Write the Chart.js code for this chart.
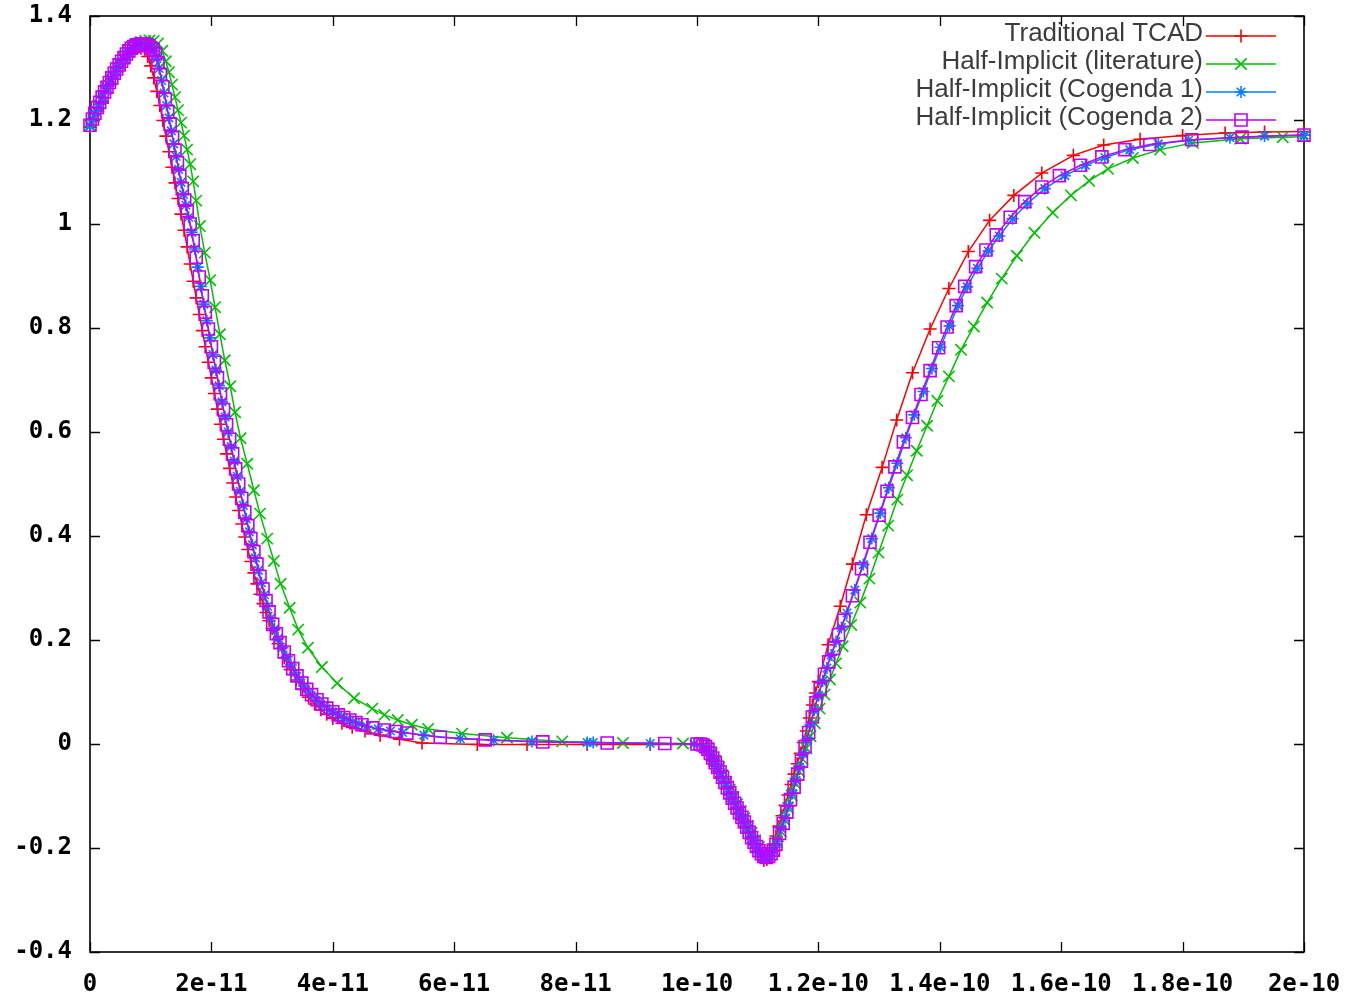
<!DOCTYPE html>
<html><head><meta charset="utf-8">
<script src="https://cdn.jsdelivr.net/npm/chart.js@4/dist/chart.umd.min.js"></script>
<style>html,body{margin:0;padding:0;background:#fff;}canvas{display:block;}</style>
</head><body>
<canvas id="c" width="1350" height="994"></canvas>
<script>
// ---- data (time in ps, value in V) ----
const seriesNames = ['Traditional TCAD','Half-Implicit (literature)','Half-Implicit (Cogenda 1)','Half-Implicit (Cogenda 2)'];
const seriesColors = ['#ff0000','#00c000','#0080ff','#c000ff'];

const tcadData = [[0,1.186],[0.6,1.200],[1.2,1.218],[1.8,1.235],[2.4,1.251],[3.0,1.266],[3.6,1.280],[4.2,1.293],[4.8,1.305],[5.4,1.316],[6.0,1.325],[6.6,1.332],[7.2,1.337],[7.8,1.339],[8.4,1.338],[9.0,1.333],[9.5,1.322],[10.0,1.304],[10.5,1.281],[11.0,1.255],[11.5,1.228],[12.0,1.199],[12.5,1.169],[13.0,1.139],[13.5,1.109],[14.0,1.079],[14.5,1.049],[15.0,1.019],[15.5,0.988],[16.0,0.956],[16.5,0.923],[17.0,0.890],[17.5,0.858],[18.0,0.826],[18.5,0.795],[19.0,0.764],[19.5,0.734],[20.0,0.704],[20.5,0.674],[21.0,0.644],[21.5,0.615],[22.0,0.586],[22.5,0.558],[23.0,0.530],[23.5,0.502],[24.0,0.475],[24.5,0.449],[25.0,0.423],[25.5,0.398],[26.0,0.374],[26.5,0.351],[27.0,0.329],[27.5,0.308],[28.0,0.288],[28.5,0.270],[29.0,0.253],[29.5,0.237],[30.0,0.222],[31.0,0.193],[32.0,0.166],[33.0,0.143],[34.0,0.123],[35.0,0.105],[36.0,0.090],[37.0,0.077],[38.0,0.066],[39.0,0.057],[40.0,0.049],[41.5,0.040],[43.2,0.032],[45.3,0.025],[47.8,0.017],[51.0,0.009],[54.7,0.002],[63.8,-0.001],[72.0,-0.001],[81.9,-0.001],[92.3,-0.001],[100.5,-0.001],[101.0,-0.003],[101.5,-0.012],[102.0,-0.022],[102.5,-0.032],[103.0,-0.042],[103.5,-0.052],[104.0,-0.063],[104.5,-0.074],[105.0,-0.086],[105.5,-0.098],[106.0,-0.110],[106.5,-0.122],[107.0,-0.134],[107.5,-0.146],[108.0,-0.158],[108.5,-0.170],[109.0,-0.182],[109.5,-0.194],[110.0,-0.206],[110.5,-0.216],[111.0,-0.224],[111.5,-0.222],[112.0,-0.210],[112.5,-0.195],[113.0,-0.177],[113.5,-0.158],[114.0,-0.138],[114.5,-0.118],[115.0,-0.098],[115.5,-0.078],[116.0,-0.058],[116.5,-0.038],[117.0,-0.018],[117.5,0.003],[118.0,0.025],[118.5,0.050],[119.0,0.075],[119.5,0.098],[120.0,0.120],[121.6,0.191],[123.6,0.265],[125.6,0.346],[127.9,0.441],[130.5,0.532],[132.9,0.623],[135.5,0.714],[138.4,0.798],[141.5,0.876],[144.7,0.947],[148.2,1.007],[152.2,1.055],[156.8,1.098],[162.0,1.132],[167.0,1.152],[173.0,1.163],[180.0,1.170],[187.0,1.175],[193.5,1.177],[200.0,1.178]];

const literatureData = [[0,1.190],[0.7,1.208],[1.4,1.227],[2.1,1.245],[2.8,1.262],[3.5,1.278],[4.2,1.293],[4.9,1.307],[5.6,1.320],[6.3,1.331],[7.0,1.340],[7.7,1.346],[8.4,1.350],[9.1,1.352],[9.8,1.353],[10.5,1.352],[11.2,1.347],[11.9,1.333],[12.5,1.313],[13.0,1.292],[13.5,1.268],[14.0,1.244],[14.5,1.219],[15.0,1.195],[15.5,1.170],[16.0,1.143],[16.5,1.115],[17.0,1.082],[17.5,1.045],[18.1,0.996],[18.9,0.945],[19.8,0.892],[20.6,0.840],[21.4,0.788],[22.2,0.738],[23.1,0.688],[23.9,0.638],[24.8,0.588],[25.9,0.539],[27.0,0.488],[28.0,0.443],[29.2,0.395],[30.3,0.352],[31.4,0.308],[32.9,0.262],[34.3,0.220],[35.9,0.185],[38.2,0.148],[40.7,0.117],[43.5,0.088],[46.5,0.068],[48.5,0.056],[50.7,0.046],[53.0,0.037],[55.7,0.029],[61.3,0.020],[68.7,0.012],[77.8,0.005],[87.8,0.002],[97.7,0.001],[101.2,-0.002],[101.8,-0.008],[102.4,-0.019],[103.0,-0.032],[103.6,-0.046],[104.2,-0.060],[104.8,-0.074],[105.4,-0.088],[106.0,-0.102],[106.6,-0.116],[107.2,-0.129],[107.8,-0.143],[108.4,-0.157],[109.0,-0.171],[109.6,-0.185],[110.2,-0.198],[110.8,-0.209],[111.4,-0.216],[112.0,-0.213],[112.6,-0.203],[113.2,-0.188],[113.8,-0.168],[114.4,-0.146],[115.0,-0.123],[115.6,-0.099],[116.2,-0.076],[116.8,-0.052],[117.4,-0.029],[118.0,-0.008],[118.7,0.015],[119.4,0.040],[120.2,0.068],[121.0,0.095],[121.9,0.124],[122.9,0.155],[124.0,0.188],[125.4,0.229],[126.9,0.272],[128.4,0.318],[129.9,0.368],[131.5,0.420],[133.0,0.470],[134.6,0.517],[136.2,0.564],[137.9,0.612],[139.6,0.660],[141.5,0.707],[143.5,0.758],[145.6,0.803],[147.8,0.849],[150.2,0.895],[152.7,0.939],[155.6,0.983],[158.6,1.022],[161.6,1.055],[164.6,1.083],[167.7,1.106],[171.8,1.127],[176.3,1.143],[181.7,1.156],[189.5,1.164],[196.5,1.167],[200.0,1.168]];

const cogenda1Data = [[0,1.188],[0.5,1.203],[1.0,1.217],[1.5,1.230],[2.0,1.243],[2.5,1.256],[3.0,1.268],[3.5,1.279],[4.0,1.289],[4.5,1.299],[5.0,1.309],[5.5,1.318],[6.0,1.326],[6.5,1.333],[7.0,1.339],[7.5,1.343],[8.0,1.345],[8.5,1.346],[9.0,1.346],[9.5,1.344],[10.0,1.340],[10.5,1.333],[11.0,1.318],[11.4,1.299],[11.8,1.276],[12.2,1.252],[12.6,1.228],[13.0,1.204],[13.4,1.179],[13.8,1.154],[14.2,1.130],[14.6,1.105],[15.0,1.080],[15.4,1.057],[15.8,1.036],[16.25,1.013],[16.75,0.984],[17.25,0.952],[17.75,0.917],[18.25,0.880],[18.75,0.846],[19.25,0.814],[19.75,0.781],[20.25,0.749],[20.75,0.719],[21.25,0.689],[21.75,0.658],[22.25,0.629],[22.75,0.600],[23.25,0.572],[23.75,0.544],[24.25,0.515],[24.75,0.486],[25.25,0.459],[25.75,0.433],[26.25,0.408],[26.75,0.383],[27.25,0.358],[27.75,0.334],[28.25,0.310],[28.75,0.287],[29.25,0.265],[29.8,0.242],[30.4,0.221],[31.0,0.203],[31.7,0.185],[32.4,0.168],[33.1,0.152],[33.8,0.137],[34.5,0.124],[35.3,0.111],[36.1,0.100],[37.0,0.090],[37.8,0.081],[38.6,0.073],[39.5,0.065],[40.5,0.059],[41.4,0.053],[42.3,0.048],[43.3,0.043],[44.3,0.039],[45.6,0.034],[47.5,0.029],[49.5,0.025],[51.5,0.022],[55.0,0.017],[61.0,0.010],[66.5,0.007],[72.8,0.005],[81.9,0.003],[82.9,0.003],[92.3,0.001],[99.5,0.000],[101.5,-0.006],[101.9,-0.012],[102.3,-0.020],[102.7,-0.029],[103.1,-0.038],[103.5,-0.047],[103.9,-0.056],[104.3,-0.066],[104.7,-0.076],[105.1,-0.086],[105.5,-0.096],[105.9,-0.106],[106.3,-0.116],[106.7,-0.125],[107.1,-0.134],[107.5,-0.143],[107.9,-0.152],[108.3,-0.162],[108.7,-0.172],[109.1,-0.182],[109.5,-0.191],[109.9,-0.199],[110.3,-0.206],[110.7,-0.212],[111.1,-0.217],[111.5,-0.218],[111.9,-0.215],[112.3,-0.209],[112.8,-0.199],[113.3,-0.187],[113.9,-0.163],[114.5,-0.142],[115.1,-0.119],[115.7,-0.095],[116.3,-0.070],[116.9,-0.045],[117.5,-0.019],[118.1,0.008],[118.7,0.037],[119.3,0.065],[120.0,0.093],[120.7,0.121],[121.4,0.146],[122.1,0.171],[122.9,0.197],[123.8,0.224],[124.7,0.252],[126.0,0.296],[127.4,0.345],[128.8,0.395],[130.2,0.444],[131.6,0.493],[133.0,0.540],[134.4,0.589],[135.8,0.633],[137.3,0.678],[138.7,0.722],[140.1,0.763],[141.6,0.804],[143.0,0.843],[144.5,0.879],[146.2,0.915],[148.0,0.948],[149.8,0.977],[152.0,1.010],[154.4,1.039],[157.3,1.068],[160.6,1.093],[164.0,1.113],[167.2,1.128],[171.3,1.143],[176.0,1.154],[181.0,1.161],[187.8,1.166],[193.5,1.169],[200.0,1.171]];

const cogenda2Data = [[0,1.190],[0.4,1.202],[0.8,1.213],[1.2,1.224],[1.6,1.234],[2.0,1.244],[2.4,1.254],[2.8,1.263],[3.2,1.272],[3.6,1.281],[4.0,1.290],[4.4,1.298],[4.8,1.306],[5.2,1.313],[5.6,1.320],[6.0,1.327],[6.4,1.333],[6.8,1.338],[7.2,1.341],[7.6,1.344],[8.0,1.345],[8.4,1.346],[8.8,1.346],[9.2,1.345],[9.6,1.343],[10.0,1.339],[10.4,1.335],[10.8,1.327],[11.2,1.310],[11.6,1.288],[12.0,1.264],[12.4,1.240],[12.8,1.216],[13.2,1.192],[13.6,1.166],[14.0,1.142],[14.4,1.118],[14.8,1.092],[15.2,1.068],[15.6,1.046],[16.0,1.026],[16.5,1.000],[17.0,0.968],[17.5,0.936],[18.0,0.898],[18.5,0.862],[19.0,0.830],[19.5,0.798],[20.0,0.764],[20.5,0.734],[21.0,0.704],[21.5,0.673],[22.0,0.643],[22.5,0.614],[23.0,0.586],[23.5,0.558],[24.0,0.529],[24.5,0.500],[25.0,0.472],[25.5,0.446],[26.0,0.420],[26.5,0.395],[27.0,0.370],[27.5,0.346],[28.0,0.322],[28.5,0.298],[29.0,0.276],[29.5,0.254],[30.1,0.230],[30.7,0.212],[31.3,0.195],[32.0,0.177],[32.7,0.160],[33.4,0.145],[34.1,0.131],[34.9,0.117],[35.7,0.105],[36.5,0.095],[37.4,0.085],[38.2,0.077],[39.0,0.069],[40.0,0.062],[40.9,0.056],[41.8,0.051],[42.8,0.046],[43.8,0.041],[44.8,0.037],[46.6,0.031],[48.5,0.027],[50.3,0.024],[52.2,0.021],[57.7,0.013],[65.1,0.008],[74.6,0.004],[85.2,0.002],[94.7,0.001],[100.0,0.000],[100.6,0.000],[101.0,-0.002],[101.4,-0.005],[101.8,-0.010],[102.2,-0.018],[102.6,-0.027],[103.0,-0.036],[103.4,-0.045],[103.8,-0.054],[104.2,-0.064],[104.6,-0.074],[105.0,-0.084],[105.4,-0.094],[105.8,-0.104],[106.2,-0.114],[106.6,-0.123],[107.0,-0.132],[107.4,-0.141],[107.8,-0.150],[108.2,-0.160],[108.6,-0.170],[109.0,-0.180],[109.4,-0.189],[109.8,-0.197],[110.2,-0.205],[110.6,-0.211],[111.0,-0.216],[111.4,-0.218],[111.8,-0.216],[112.2,-0.211],[112.6,-0.204],[113.0,-0.193],[113.6,-0.172],[114.2,-0.153],[114.8,-0.131],[115.4,-0.107],[116.0,-0.083],[116.6,-0.058],[117.2,-0.033],[117.8,-0.005],[118.4,0.022],[119.0,0.052],[119.6,0.079],[120.3,0.106],[121.0,0.134],[121.7,0.158],[122.5,0.184],[123.3,0.210],[124.2,0.238],[125.6,0.285],[127.1,0.337],[128.5,0.388],[130.0,0.440],[131.3,0.486],[132.6,0.533],[134.0,0.581],[135.5,0.628],[136.9,0.672],[138.4,0.718],[139.8,0.762],[141.2,0.802],[142.7,0.843],[144.1,0.880],[145.9,0.918],[147.6,0.950],[149.3,0.979],[151.6,1.013],[154.0,1.043],[156.8,1.071],[159.7,1.093],[163.2,1.113],[166.7,1.129],[170.5,1.143],[174.6,1.153],[181.5,1.162],[189.8,1.167],[200.0,1.171]];

const xTickLabels = ['0','2e-11','4e-11','6e-11','8e-11','1e-10','1.2e-10','1.4e-10','1.6e-10','1.8e-10','2e-10'];
const yTickLabels = ['-0.4','-0.2','0','0.2','0.4','0.6','0.8','1','1.2','1.4'];

// ---- chart ----
const X_MIN = 0, X_MAX = 200, X_STEP = 20;
const Y_MIN = -0.4, Y_MAX = 1.4, Y_STEP = 0.2;
const pointStyles = ['cross','crossRot','star','rect'];
const pointRadii = [6.5, 8, 6, 8.5];
const allData = [tcadData, literatureData, cogenda1Data, cogenda2Data];

const datasets = allData.map((arr, i) => ({
  label: seriesNames[i],
  data: arr.map(p => ({x: p[0], y: p[1]})),
  borderColor: seriesColors[i],
  backgroundColor: seriesColors[i],
  pointBorderColor: seriesColors[i],
  pointBackgroundColor: 'rgba(0,0,0,0)',
  pointStyle: pointStyles[i],
  pointRadius: pointRadii[i],
  pointBorderWidth: 1.6,
  borderWidth: 1.5,
  showLine: true,
  tension: 0,
  clip: false,
  order: 3 - i
}));

function drawMarker(ctx, style, x, y, r) {
  ctx.beginPath();
  if (style === 'cross' || style === 'star') {
    ctx.moveTo(x, y - r); ctx.lineTo(x, y + r);
    ctx.moveTo(x - r, y); ctx.lineTo(x + r, y);
  }
  if (style === 'crossRot' || style === 'star') {
    const d = r * Math.SQRT1_2;
    ctx.moveTo(x - d, y - d); ctx.lineTo(x + d, y + d);
    ctx.moveTo(x - d, y + d); ctx.lineTo(x + d, y - d);
  }
  if (style === 'rect') {
    const s = r * Math.SQRT1_2;
    ctx.rect(x - s, y - s, 2 * s, 2 * s);
  }
  ctx.stroke();
}

const framePlugin = {
  id: 'frame',
  beforeDatasetsDraw(chart) {
    const {ctx, chartArea: a, scales} = chart;
    ctx.save();
    ctx.strokeStyle = '#000';
    ctx.lineWidth = 1.6;
    ctx.strokeRect(a.left, a.top, a.right - a.left, a.bottom - a.top);
    ctx.lineWidth = 1.3;
    const tl = 10;
    ctx.beginPath();
    scales.x.ticks.forEach(t => {
      const px = Math.round(scales.x.getPixelForValue(t.value)) + 0.5;
      ctx.moveTo(px, a.bottom); ctx.lineTo(px, a.bottom - tl);
      ctx.moveTo(px, a.top); ctx.lineTo(px, a.top + tl);
    });
    scales.y.ticks.forEach(t => {
      const py = Math.round(scales.y.getPixelForValue(t.value)) + 0.5;
      ctx.moveTo(a.left, py); ctx.lineTo(a.left + tl, py);
      ctx.moveTo(a.right, py); ctx.lineTo(a.right - tl, py);
    });
    ctx.stroke();
    ctx.restore();
  }
};

const legendPlugin = {
  id: 'gpLegend',
  afterDraw(chart) {
    const ctx = chart.ctx;
    ctx.save();
    ctx.font = '26px "Liberation Sans", Arial, sans-serif';
    ctx.textAlign = 'right';
    ctx.textBaseline = 'alphabetic';
    chart.data.datasets.forEach((ds, i) => {
      const y = 36 + i * 28;
      ctx.fillStyle = '#3c3c3c';
      ctx.fillText(ds.label, 1203, y + 5);
      ctx.strokeStyle = ds.borderColor;
      ctx.lineWidth = 1.5;
      ctx.beginPath(); ctx.moveTo(1206, y); ctx.lineTo(1276, y); ctx.stroke();
      ctx.lineWidth = 1.6;
      drawMarker(ctx, ds.pointStyle, 1241, y, ds.pointRadius);
    });
    ctx.restore();
  }
};

const tickFont = {family: '"DejaVu Sans Mono", "Liberation Mono", monospace', size: 24, weight: 'bold'};

new Chart(document.getElementById('c'), {
  type: 'scatter',
  data: {datasets},
  options: {
    responsive: false,
    animation: false,
    devicePixelRatio: 1,
    events: [],
    layout: {padding: {top: 16, right: 46, left: 0, bottom: 0}},
    plugins: {legend: {display: false}, tooltip: {enabled: false}},
    scales: {
      x: {
        type: 'linear', min: X_MIN, max: X_MAX,
        grid: {display: false, drawTicks: false},
        border: {display: false},
        ticks: {
          stepSize: X_STEP, padding: 18, color: '#000', font: tickFont, maxRotation: 0, autoSkip: false,
          callback: (v) => xTickLabels[Math.round((v - X_MIN) / X_STEP)]
        },
        afterFit: (s) => { s.height = 42; s.paddingLeft = 0; s.paddingRight = 0; }
      },
      y: {
        type: 'linear', min: Y_MIN, max: Y_MAX,
        grid: {display: false, drawTicks: false},
        border: {display: false},
        ticks: {
          stepSize: Y_STEP, padding: 18, color: '#000', font: tickFont, autoSkip: false,
          callback: (v) => yTickLabels[Math.round((v - Y_MIN) / Y_STEP)]
        },
        afterFit: (s) => { s.width = 90; s.paddingTop = 0; s.paddingBottom = 0; }
      }
    }
  },
  plugins: [framePlugin, legendPlugin]
});
</script>
</body></html>
